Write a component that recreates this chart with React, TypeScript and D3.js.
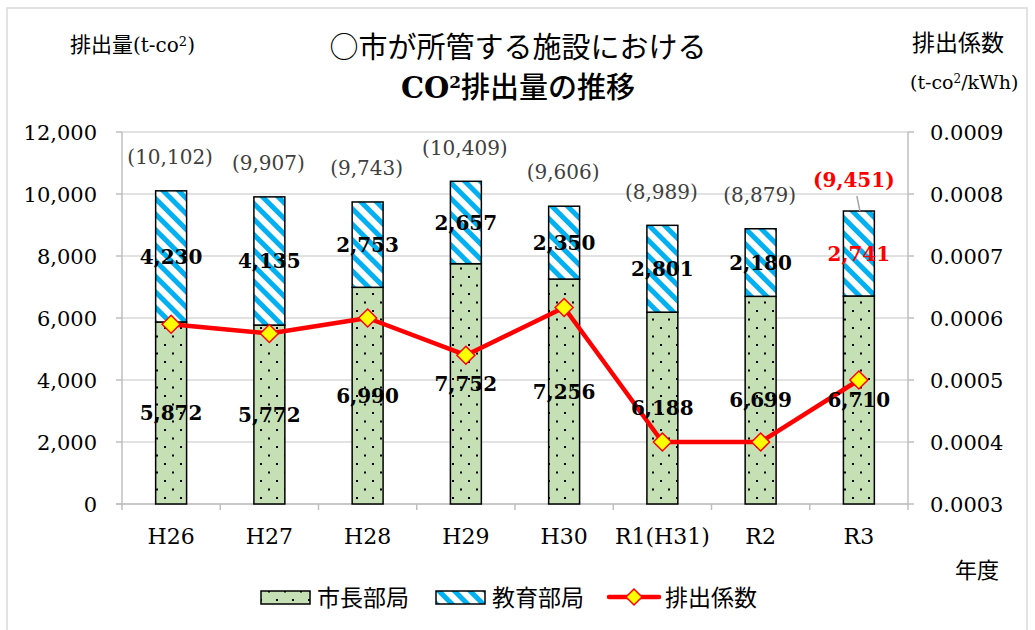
import React from 'react';
import * as d3 from 'd3';

// 年度
const categories = ['H26', 'H27', 'H28', 'H29', 'H30', 'R1(H31)', 'R2', 'R3'];
// 市長部局 (t-co2)
const mayorDept = [5872, 5772, 6990, 7752, 7256, 6188, 6699, 6710];
// 教育部局 (t-co2)
const educationDept = [4230, 4135, 2753, 2657, 2350, 2801, 2180, 2741];
// 排出係数 (t-co2/kWh)
const emissionFactor = [0.00059, 0.000575, 0.0006, 0.00054, 0.000617, 0.0004, 0.0004, 0.0005];

const leftTicks = [0, 2000, 4000, 6000, 8000, 10000, 12000];
const rightTicks = [0.0003, 0.0004, 0.0005, 0.0006, 0.0007, 0.0008, 0.0009];

const serif = '"DejaVu Serif", serif';
const jp = '"Noto Sans CJK JP", sans-serif';

export default function App() {
  const left = 122;
  const right = 908;
  const top = 132;
  const bottom = 504;

  const x = d3.scaleBand<string>().domain(categories).range([left, right]).padding(0);
  const y = d3.scaleLinear().domain([0, 12000]).range([bottom, top]);
  const y2 = d3.scaleLinear().domain([0.0003, 0.0009]).range([bottom, top]);

  const barW = x.bandwidth() * 0.315;
  const cx = (c: string) => (x(c) as number) + x.bandwidth() / 2;
  const fmt = d3.format(',');

  const line = d3
    .line<number>()
    .x((_, i) => cx(categories[i]))
    .y((d) => y2(d));

  const diamond = (px: number, py: number, r: number) =>
    `M${px},${py - r}L${px + r},${py}L${px},${py + r}L${px - r},${py}Z`;

  const last = categories.length - 1;

  return (
    <svg width={1035} height={630} style={{ position: 'absolute', left: 0, top: 0, background: '#fff' }}>
      <defs>
        <pattern id="dots" width={16} height={17} patternUnits="userSpaceOnUse">
          <rect width={16} height={17} fill="#c5e0b4" />
          <rect x={4} y={4} width={2} height={2} fill="#000" />
          <rect x={12} y={12.5} width={2} height={2} fill="#000" />
        </pattern>
        <pattern id="hatch" width={11} height={11} patternUnits="userSpaceOnUse" patternTransform="rotate(-45)">
          <rect width={11} height={11} fill="#fff" />
          <rect x={0} y={0} width={5} height={11} fill="#00b0f0" />
        </pattern>
      </defs>

      <rect x={7} y={8} width={1020} height={640} fill="none" stroke="#d9d9d9" strokeWidth={1.5} />

      {/* gridlines */}
      {leftTicks.map((t) => (
        <line key={'g' + t} x1={left} x2={right} y1={y(t)} y2={y(t)} stroke="#d9d9d9" strokeWidth={1.5} />
      ))}

      {/* axes */}
      <line x1={left} x2={left} y1={top} y2={bottom} stroke="#bfbfbf" strokeWidth={1.5} />
      <line x1={right} x2={right} y1={top} y2={bottom + 6} stroke="#bfbfbf" strokeWidth={1.5} />
      <line x1={left - 6} x2={right} y1={bottom} y2={bottom} stroke="#bfbfbf" strokeWidth={1.5} />
      {leftTicks.map((t) => (
        <line key={'lt' + t} x1={left - 6} x2={left} y1={y(t)} y2={y(t)} stroke="#bfbfbf" strokeWidth={1.5} />
      ))}
      {rightTicks.map((t) => (
        <line key={'rt' + t} x1={right} x2={right + 6} y1={y2(t)} y2={y2(t)} stroke="#bfbfbf" strokeWidth={1.5} />
      ))}
      {categories.map((c) => (
        <line key={'xt' + c} x1={x(c)} x2={x(c)} y1={bottom} y2={bottom + 6} stroke="#bfbfbf" strokeWidth={1.5} />
      ))}

      {/* tick labels */}
      {leftTicks.map((t) => (
        <text key={'ll' + t} x={97} y={y(t)} dy="0.36em" textAnchor="end" fontFamily={serif} fontSize={21} fill="#000">
          {fmt(t)}
        </text>
      ))}
      {rightTicks.map((t) => (
        <text key={'rl' + t} x={930} y={y2(t)} dy="0.36em" fontFamily={serif} fontSize={21} fill="#000">
          {t.toFixed(4)}
        </text>
      ))}
      {categories.map((c) => (
        <text key={'cl' + c} x={cx(c)} y={536} dy="0.36em" textAnchor="middle" fontFamily={serif} fontSize={22} fill="#000">
          {c}
        </text>
      ))}

      {/* bars */}
      {categories.map((c, i) => {
        const bx = cx(c) - barW / 2;
        const total = mayorDept[i] + educationDept[i];
        return (
          <g key={'b' + c}>
            <rect x={bx} y={y(mayorDept[i])} width={barW} height={y(0) - y(mayorDept[i])} fill="url(#dots)" stroke="#000" strokeWidth={1.5} />
            <rect x={bx} y={y(total)} width={barW} height={y(mayorDept[i]) - y(total)} fill="url(#hatch)" stroke="#000" strokeWidth={1.5} />
          </g>
        );
      })}

      {/* line */}
      <path d={line(emissionFactor) || ''} fill="none" stroke="#ff0000" strokeWidth={4.5} strokeLinejoin="round" />
      {emissionFactor.map((v, i) => (
        <path key={'m' + i} d={diamond(cx(categories[i]), y2(v), 9)} fill="#ffff00" stroke="#ff0000" strokeWidth={1.5} />
      ))}

      {/* value labels */}
      {categories.map((c, i) => {
        const total = mayorDept[i] + educationDept[i];
        const hl = i === last;
        return (
          <g key={'v' + c}>
            <text x={cx(c)} y={y(mayorDept[i] / 2)} dy="0.36em" textAnchor="middle" fontFamily={serif} fontWeight="bold" fontSize={20} fill="#000">
              {fmt(mayorDept[i])}
            </text>
            <text x={cx(c)} y={y(mayorDept[i] + educationDept[i] / 2)} dy="0.36em" textAnchor="middle" fontFamily={serif} fontWeight="bold" fontSize={20} fill={hl ? '#ff0000' : '#000'}>
              {fmt(educationDept[i])}
            </text>
            <text x={cx(c) - (hl ? 5 : 1)} y={y(total) - (hl ? 31 : 34)} dy="0.36em" textAnchor="middle" fontFamily={serif} fontWeight={hl ? 'bold' : 'normal'} fontSize={20} fill={hl ? '#ff0000' : '#404040'}>
              ({fmt(total)})
            </text>
            {hl && <line x1={cx(c) - 2} y1={y(total) - 15} x2={cx(c) + 1} y2={y(total)} stroke="#a6a6a6" strokeWidth={1.5} />}
          </g>
        );
      })}

      {/* titles */}
      <text x={518} y={48} dy="0.36em" textAnchor="middle" fontFamily={jp} fontSize={29} fill="#000">
        ○市が所管する施設における
      </text>
      <text x={518} y={88} dy="0.36em" textAnchor="middle" fontSize={29} fill="#000">
        <tspan fontFamily={serif} fontWeight="bold">CO</tspan>
        <tspan fontFamily={serif} fontWeight="bold" fontSize={17} dy="-0.6em">2</tspan>
        <tspan fontFamily={jp} fontWeight="500" dy="0.35em">排出量の推移</tspan>
      </text>

      <text x={70} y={45} dy="0.36em" fontSize={20} fill="#000">
        <tspan fontFamily={jp} fontSize={21}>排出量</tspan>
        <tspan fontFamily={serif}>(t-co</tspan>
        <tspan fontFamily={serif} fontSize={13} dy="-0.5em">2</tspan>
        <tspan fontFamily={serif} dy="0.3em">)</tspan>
      </text>
      <text x={912} y={43} dy="0.36em" fontFamily={jp} fontSize={23} fill="#000">
        排出係数
      </text>
      <text x={910} y={82} dy="0.36em" fontSize={19} fill="#000">
        <tspan fontFamily={serif}>(t-co</tspan>
        <tspan fontFamily={serif} fontSize={12} dy="-0.5em">2</tspan>
        <tspan fontFamily={serif} dy="0.3em">/kWh)</tspan>
      </text>
      <text x={955} y={570} dy="0.36em" fontFamily={jp} fontSize={22} fill="#000">
        年度
      </text>

      {/* legend */}
      <rect x={261} y={591} width={49} height={13} fill="url(#dots)" stroke="#000" strokeWidth={1.5} />
      <text x={317} y={598} dy="0.36em" fontFamily={jp} fontSize={23} fill="#000">市長部局</text>
      <rect x={436} y={591} width={49} height={13} fill="url(#hatch)" stroke="#000" strokeWidth={1.5} />
      <text x={492} y={598} dy="0.36em" fontFamily={jp} fontSize={23} fill="#000">教育部局</text>
      <line x1={609} x2={659} y1={597} y2={597} stroke="#ff0000" strokeWidth={4.5} strokeLinecap="round" />
      <path d={diamond(634, 597, 8)} fill="#ffff00" stroke="#ff0000" strokeWidth={1.5} />
      <text x={665} y={598} dy="0.36em" fontFamily={jp} fontSize={23} fill="#000">排出係数</text>
    </svg>
  );
}
